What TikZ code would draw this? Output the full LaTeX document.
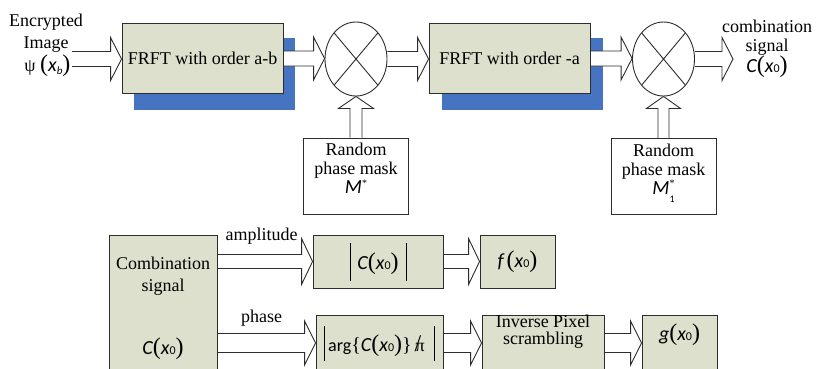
\documentclass[tikz,border=0pt]{standalone}
\usepackage{fontspec}
\setmainfont{Liberation Serif}
\newfontfamily\sfmath{Carlito}
\usetikzlibrary{shapes.geometric,calc,backgrounds}
\definecolor{boxfill}{RGB}{221,224,204}
\definecolor{shadowblue}{RGB}{70,116,193}
\definecolor{edge}{RGB}{45,45,45}
\newcommand{\myit}[1]{{\sfmath\itshape\fontsize{20}{22}\selectfont #1}}
\newcommand{\mybp}[1]{{\fontsize{24}{24}\selectfont #1}}
\newcommand{\myxz}{\myit{x}{\sfmath\fontsize{12}{12}\selectfont 0}}
\newcommand{\myCx}{\myit{C}\mybp{(}\myxz\mybp{)}}
\newcommand{\mybar}[2]{\raisebox{#1}{\rule{0.9pt}{#2}}}
\newcommand{\blkh}[4]{\filldraw[blk] let \p1=(#1), \p2=(#2) in (\x1,\y1+#3) -- (\x2-11pt,\y1+#3) -- (\x2-11pt,\y1+#4) -- (\x2,\y1) -- (\x2-11pt,\y1-#4) -- (\x2-11pt,\y1-#3) -- (\x1,\y1-#3);}
\newcommand{\blkv}[4]{\filldraw[blk] let \p1=(#1), \p2=(#2) in (\x1+#3,\y1) -- (\x1+#3,\y2-12pt) -- (\x1+#4,\y2-12pt) -- (\x1,\y2) -- (\x1-#4,\y2-12pt) -- (\x1-#3,\y2-12pt) -- (\x1-#3,\y1);}
\begin{document}
\begin{tikzpicture}[x=1pt, y=-1pt,
  font=\fontsize{18}{20}\selectfont,
  blk/.style={fill=white, draw=edge, line width=0.9pt, line join=miter},
  box/.style={draw=edge, fill=boxfill, line width=0.9pt, inner sep=0pt, align=center},
  mask/.style={draw=edge, fill=white, line width=0.9pt, inner sep=0pt, align=center,
    minimum width=105pt, minimum height=76pt, font=\fontsize{18}{19}\selectfont},
  mult/.style={ellipse, draw=edge, fill=white, line width=0.9pt, inner sep=0pt,
    minimum width=62pt, minimum height=74pt,
    path picture={\draw[edge, line width=0.9pt]
      (path picture bounding box.north west) -- (path picture bounding box.south east)
      (path picture bounding box.north east) -- (path picture bounding box.south west);}},
  lbl/.style={inner sep=0pt, align=center}]
\useasboundingbox (0,0) rectangle (816,368);
\clip (0,0) rectangle (816,368);

% top row
\node[lbl, font=\fontsize{18}{22.5}\selectfont] (intxt) at (46,45)
  {Encrypted\\Image\\$\,$ψ\ \mybp{(}\myit{x}\raisebox{-3pt}{\myit{\fontsize{11}{11}\selectfont b}}\mybp{)}};
\coordinate (inS) at (72,59);
\node[box, minimum width=161pt, minimum height=70pt] (f1) at (202.5,58.5) {FRFT with order a-b};
\node[mult] (c1) at (356,59) {};
\node[box, minimum width=161pt, minimum height=70pt] (f2) at (509.5,58.5) {FRFT with order -a};
\node[mult] (c2) at (663.5,59) {};
\coordinate (outE) at (733,59);
\node[lbl, font=\fontsize{18}{19}\selectfont] (outtxt) at (767,49) {combination\\signal\\\myCx};
\node[mask] (m1) at (356,176) {Random\\phase mask\\\myit{M}\raisebox{7pt}{\fontsize{10}{10}\selectfont *}\rule[-15pt]{0pt}{1pt}};
\node[mask] (m2) at (663.5,176.5) {Random\\phase mask\\\myit{M}\makebox[0pt][l]{\raisebox{8pt}{\fontsize{10}{10}\selectfont *}}\raisebox{-8pt}{\sfmath\fontsize{10}{10}\selectfont 1}\rule[-15pt]{0pt}{1pt}};

% bottom rows
\node[box, minimum width=108pt, minimum height=165pt] (cb) at (163,317.5) {};
\node[lbl, font=\fontsize{18}{22}\selectfont] (cbtxt) at (163,276) {Combination\\signal};
\node[lbl] (cbC) at (163,349) {\myCx};
\node[box, minimum width=130pt, minimum height=53pt] (ab) at (378,261.5)
  {\mybar{-11pt}{38pt}\hspace{7pt}\myCx\hspace{7pt}\mybar{-11pt}{38pt}};
\node[box, minimum width=75pt, minimum height=53pt] (fb) at (517.5,261.5)
  {\myit{f}\,\mybp{(}\myxz\mybp{)}};
\node[box, minimum width=127pt, minimum height=56pt] (ag) at (379.5,343)
  {\mybar{-9pt}{35pt}\hspace{3pt}{\sfmath\fontsize{18}{18}\selectfont arg}{\fontsize{20}{20}\selectfont\{}\myCx{\fontsize{20}{20}\selectfont\}}\hspace{4pt}\makebox[0pt][l]{\hspace{-1pt}\fontsize{24}{24}\selectfont /}π\hspace{9pt}\mybar{-9pt}{35pt}};
\node[box, minimum width=122pt, minimum height=56pt] (iv) at (543,343) {};
\node[lbl, font=\fontsize{18}{17}\selectfont] (ivtxt) at (543,332) {Inverse Pixel\\scrambling};
\node[box, minimum width=75pt, minimum height=56pt] (gb) at (679.5,343) {};
\node[lbl] (gtxt) at (679.5,335) {\myit{g}\mybp{(}\myxz\mybp{)}};
\node[lbl] (amp) at (261.5,236) {amplitude};
\node[lbl] (ph) at (261.5,318) {phase};

\begin{pgfonlayer}{background}
  \fill[shadowblue] ([shift={(12,16)}]f1.south west) rectangle ([shift={(12,15)}]f1.north east);
  \fill[shadowblue] ([shift={(13,16)}]f2.south west) rectangle ([shift={(13,15)}]f2.north east);
  \blkh{inS}{f1.west}{7.5pt}{21.5pt}
  \blkh{f1.east}{c1.west}{7.5pt}{21.5pt}
  \blkh{c1.east}{f2.west}{7.5pt}{21.5pt}
  \blkh{f2.east}{c2.west}{7.5pt}{21.5pt}
  \blkh{c2.east}{outE}{7.5pt}{21.5pt}
  \blkv{m1.north}{c1.south}{6pt}{17.5pt}
  \blkv{m2.north}{c2.south}{5.5pt}{17pt}
  \blkh{cb.east |- ab.west}{ab.west}{7pt}{23pt}
  \blkh{ab.east}{fb.west}{7pt}{23pt}
  \blkh{cb.east |- ag.west}{ag.west}{9.5pt}{22pt}
  \blkh{ag.east}{iv.west}{9.5pt}{22pt}
  \blkh{iv.east}{gb.west}{9.5pt}{22pt}
\end{pgfonlayer}
\end{tikzpicture}
\end{document}
